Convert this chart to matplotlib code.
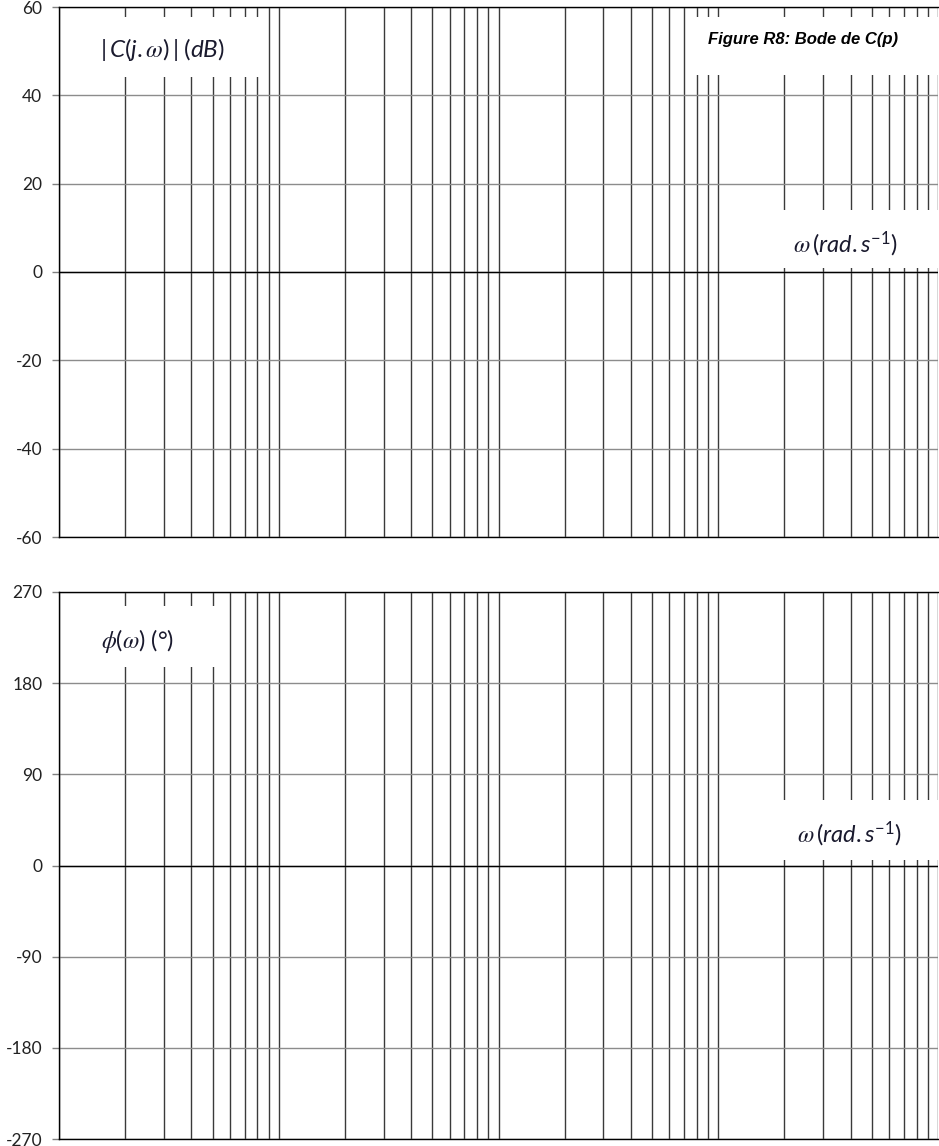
"""
Blank Bode chart grid (gain + phase), log frequency axis over 4 decades.
"""

import numpy as np
import matplotlib.pyplot as plt
from matplotlib.patches import Rectangle
from matplotlib.ticker import LogLocator, NullFormatter

plt.rcParams["font.family"] = ["Lato", "DejaVu Sans"]
plt.rcParams["axes.unicode_minus"] = False
plt.rcParams["mathtext.fontset"] = "custom"
plt.rcParams["mathtext.rm"] = "Lato"
plt.rcParams["mathtext.it"] = "Lato:italic"
plt.rcParams["mathtext.sf"] = "STIXGeneral:italic"
plt.rcParams["mathtext.fallback"] = "stix"

# chart data
omega_range = [1, 1e4]
gain_ticks = [-60, -40, -20, 0, 20, 40, 60]
phase_ticks = [-270, -180, -90, 0, 90, 180, 270]
title = "Figure R8: Bode de C(p)"
gain_label = r"$|\,C(j.\mathsf{\omega})\,|\;(dB)$"
phase_label = r"$\mathsf{\phi}(\mathsf{\omega})\ (°)$"
omega_label = r"$\mathsf{\omega}\,(rad.s^{-1})$"

W, H = 939, 1146
fig = plt.figure(figsize=(W / 100, H / 100), dpi=100)

# axes rectangles from pixel positions (left, right, top, bottom)
def px_axes(l, r, t, b):
    return fig.add_axes([l / W, (H - b) / H, (r - l) / W, (b - t) / H])

ax_g = px_axes(59, 938, 7, 537)
ax_p = px_axes(59, 938, 592, 1139)


def setup(ax, ticks):
    ax.set_xscale("log")
    ax.set_xlim(omega_range)
    ax.set_ylim(ticks[0], ticks[-1])
    ax.set_yticks(ticks)
    ax.xaxis.set_major_locator(LogLocator(base=10))
    ax.xaxis.set_minor_locator(LogLocator(base=10, subs=np.arange(2, 10)))
    ax.xaxis.set_major_formatter(NullFormatter())
    ax.xaxis.set_minor_formatter(NullFormatter())
    ax.tick_params(axis="x", which="both", length=0)
    ax.tick_params(axis="y", direction="out", length=5, width=1, color="#808080",
                   labelsize=12.5, pad=7, labelcolor="#222222")
    ax.set_axisbelow(True)
    ax.grid(True, axis="x", which="both", color="#3a3a3a", linewidth=1.0)
    ax.grid(True, axis="y", which="major", color="#8c8c8c", linewidth=1.0)
    ax.axhline(0, color="black", linewidth=1.0, zorder=0.6)
    for side in ["top", "bottom", "left"]:
        ax.spines[side].set_color("black")
        ax.spines[side].set_linewidth(1.0)
    ax.spines["right"].set_visible(False)


setup(ax_g, gain_ticks)
setup(ax_p, phase_ticks)


def blank_box(ax, x0, x1, y0, y1):
    ax.add_patch(Rectangle((x0, y0), x1 - x0, y1 - y0, transform=ax.transAxes,
                           facecolor="white", edgecolor="none", zorder=1,
                           clip_on=False))


# white label boxes hiding the grid
blank_box(ax_g, 0.030, 0.232, 0.868, 0.981)
blank_box(ax_g, 0.717, 1.0, 0.872, 0.981)
blank_box(ax_g, 0.780, 1.0, 0.5075, 0.617)
blank_box(ax_p, 0.018, 0.185, 0.863, 0.974)
blank_box(ax_p, 0.785, 1.0, 0.510, 0.620)

text_color = "#1a1a2e"
ax_g.text(0.047, 0.919, gain_label, transform=ax_g.transAxes, fontsize=17.5,
          ha="left", va="center", color=text_color, zorder=3)
ax_g.text(0.846, 0.938, title, transform=ax_g.transAxes, fontsize=12,
          family="Liberation Sans", style="italic", weight="bold",
          ha="center", va="center", color="black", zorder=3)
ax_g.text(0.895, 0.553, omega_label, transform=ax_g.transAxes, fontsize=17,
          ha="center", va="center", color=text_color, zorder=3)
ax_p.text(0.089, 0.910, phase_label, transform=ax_p.transAxes, fontsize=17,
          ha="center", va="center", color=text_color, zorder=3)
ax_p.text(0.899, 0.557, omega_label, transform=ax_p.transAxes, fontsize=17,
          ha="center", va="center", color=text_color, zorder=3)

fig.savefig("out.png", dpi=100)
